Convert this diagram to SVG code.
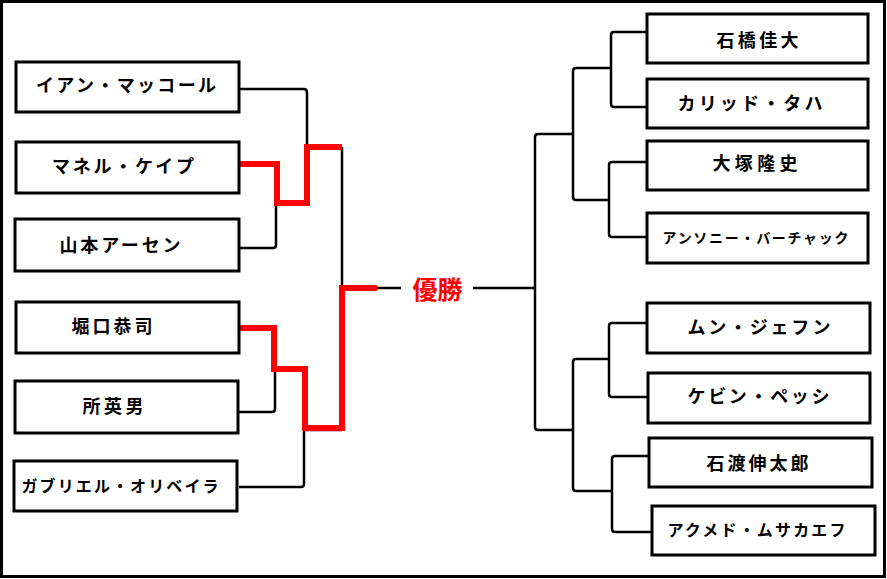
<svg xmlns="http://www.w3.org/2000/svg" width="887" height="579" viewBox="0 0 887 579">
<style>
.box{fill:#fff;stroke:#000;stroke-width:3}
.ln{fill:none;stroke:#000;stroke-width:2.5;stroke-linejoin:round}
.win{fill:none;stroke:#ff0000;stroke-width:6;stroke-linejoin:miter}
.t{font-family:"Noto Sans CJK JP","Noto Sans",sans-serif;font-weight:700;font-size:18px;fill:#000;text-anchor:middle}
.s{font-size:16px}
.xs{font-size:14px}
.champ{font-family:"Noto Sans CJK JP","Noto Sans",sans-serif;font-weight:700;font-size:25px;fill:#ff0000;text-anchor:middle}
</style>
<rect x="0" y="0" width="887" height="579" fill="#fff"/>
<rect x="1.5" y="1.5" width="883" height="575" fill="none" stroke="#000" stroke-width="3"/>
<g id="connectors">
<path class="ln" d="M239,89 H304 Q307,89 307,93 V147"/>
<path class="ln" d="M239,248 H273 Q276,248 276,245 V203"/>
<path class="ln" d="M342,147 V288"/>
<path class="ln" d="M239,412 H272 Q275,412 275,409 V369"/>
<path class="ln" d="M239,487 H301 Q304,487 304,484 V430 H342"/>
<path class="ln" d="M377,288 H401"/>
<path class="ln" d="M473,288 H535"/>
<path class="ln" d="M647,32 H614 Q611,32 611,35 V104 Q611,107 614,107 H647"/>
<path class="ln" d="M611,68 H576 Q573,68 573,71 V197 Q573,200 576,200 H609"/>
<path class="ln" d="M647,162 H612 Q609,162 609,165 V234 Q609,237 612,237 H647"/>
<path class="ln" d="M573,134 H538 Q535,134 535,137 V427 Q535,430 538,430 H573"/>
<path class="ln" d="M647,323 H612 Q609,323 609,326 V394 Q609,397 612,397 H647"/>
<path class="ln" d="M609,359 H576 Q573,359 573,362 V488 Q573,491 576,491 H612"/>
<path class="ln" d="M649,456 H615 Q612,456 612,459 V529 Q612,532 615,532 H652"/>
<path class="win" d="M239,164 H277 V203 H307 V147 H342"/>
<path class="win" d="M239,328 H274 V369 H305 V428 H342 V288 H377"/>
</g>
<g id="n1"><rect class="box" x="16" y="62" width="223" height="50"/><text class="t" x="126" y="92" textLength="180" lengthAdjust="spacing">イアン・マッコール</text></g>
<g id="n2"><rect class="box" x="16" y="142" width="223" height="51"/><text class="t" x="123" y="173" textLength="142" lengthAdjust="spacing">マネル・ケイプ</text></g>
<g id="n3"><rect class="box" x="15" y="219" width="224" height="52"/><text class="t" x="120" y="252" textLength="121" lengthAdjust="spacing">山本アーセン</text></g>
<g id="n4"><rect class="box" x="16" y="302" width="223" height="51"/><text class="t" x="112" y="333" textLength="81" lengthAdjust="spacing">堀口恭司</text></g>
<g id="n5"><rect class="box" x="15" y="381" width="223" height="52"/><text class="t" x="113" y="413" textLength="61" lengthAdjust="spacing">所英男</text></g>
<g id="n6"><rect class="box" x="14" y="461" width="223" height="50"/><text class="t s" x="120" y="492" textLength="197" lengthAdjust="spacing">ガブリエル・オリベイラ</text></g>
<g id="champion"><text class="champ" x="437.5" y="299">優勝</text></g>
<g id="r1"><rect class="box" x="647" y="14" width="221" height="49"/><text class="t" x="757.5" y="47" textLength="82" lengthAdjust="spacing">石橋佳大</text></g>
<g id="r2"><rect class="box" x="647" y="79" width="221" height="49"/><text class="t" x="750" y="110" textLength="145" lengthAdjust="spacing">カリッド・タハ</text></g>
<g id="r3"><rect class="box" x="647" y="141" width="221" height="49"/><text class="t" x="755" y="170" textLength="85" lengthAdjust="spacing">大塚隆史</text></g>
<g id="r4"><rect class="box" x="647" y="213" width="221" height="50"/><text class="t xs" x="755.5" y="243" textLength="186" lengthAdjust="spacing">アンソニー・バーチャック</text></g>
<g id="r5"><rect class="box" x="647" y="303" width="223" height="50"/><text class="t" x="759" y="334" textLength="143" lengthAdjust="spacing">ムン・ジェフン</text></g>
<g id="r6"><rect class="box" x="648" y="373" width="222" height="50"/><text class="t" x="758.5" y="403" textLength="142" lengthAdjust="spacing">ケビン・ペッシ</text></g>
<g id="r7"><rect class="box" x="649" y="438" width="223" height="49"/><text class="t" x="757.5" y="470" textLength="102" lengthAdjust="spacing">石渡伸太郎</text></g>
<g id="r8"><rect class="box" x="652" y="506" width="223" height="49"/><text class="t s" x="756.5" y="536" textLength="178" lengthAdjust="spacing">アクメド・ムサカエフ</text></g>
</svg>
